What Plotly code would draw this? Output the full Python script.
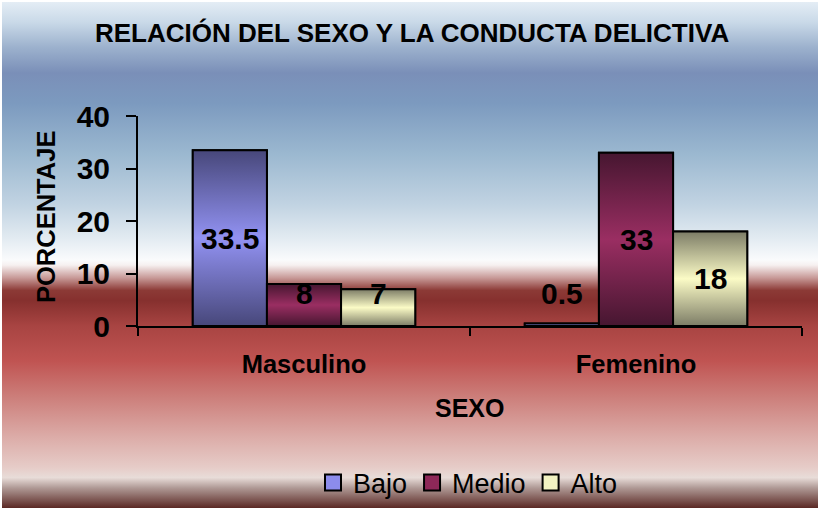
import base64
import plotly.graph_objects as go

# ---------------- data ----------------
categories = ["Masculino", "Femenino"]
series_names = ["Bajo", "Medio", "Alto"]
bajo = [33.5, 0.5]
medio = [8, 33]
alto = [7, 18]
y_ticks = [0, 10, 20, 30, 40]

title_text = "RELACIÓN DEL SEXO Y LA CONDUCTA DELICTIVA"
x_title = "SEXO"
y_title = "PORCENTAJE"

# ---------------- styles ----------------
W, H = 820, 510
FONT = "Liberation Sans, Arial, sans-serif"
light_cols = ["#9292f2", "#9a2e62", "#fbfbc6"]
dark_cols = ["#47477a", "#461630", "#7c7c66"]
legend_cols = ["#8c8cec", "#8e2858", "#f2f2c2"]
bargap = 0.33

values = [bajo, medio, alto]
n = len(values)
w = (1 - bargap) / n
xpos = list(range(len(categories)))

# plot area in pixels
px_left, px_right = 138, 802
px_top, px_bottom = 116, 326

# background gradient (svg)
stops = [
    (0.000, "#e4edf5"), (0.040, "#c9d9e8"), (0.090, "#9cb1cd"), (0.140, "#7a8fb8"),
    (0.200, "#7c9abf"), (0.300, "#9bb8d0"), (0.400, "#c1d3e2"), (0.470, "#e4ecf2"),
    (0.510, "#fafbfc"), (0.520, "#f6f0f0"), (0.545, "#c89a98"), (0.570, "#8c3a36"),
    (0.590, "#86302e"), (0.640, "#a84442"), (0.710, "#c05452"), (0.780, "#cc7e7a"),
    (0.860, "#dcaca8"), (0.920, "#e6ccc8"), (0.940, "#e8dcd8"), (0.960, "#b09a96"),
    (1.000, "#5a2824"),
]
stop_xml = "".join(f'<stop offset="{o}" stop-color="{c}"/>' for o, c in stops)
svg = (
    '<svg xmlns="http://www.w3.org/2000/svg" width="816" height="506" preserveAspectRatio="none">'
    f'<defs><linearGradient id="g" x1="0" y1="0" x2="0" y2="1">{stop_xml}</linearGradient></defs>'
    '<rect width="816" height="506" fill="url(#g)"/></svg>'
)
bg_src = "data:image/svg+xml;base64," + base64.b64encode(svg.encode()).decode()

fig = go.Figure()

# base bars
for i, (name, vals) in enumerate(zip(series_names, values)):
    fig.add_trace(go.Bar(
        x=xpos, y=vals, name=name, showlegend=False,
        marker=dict(color=light_cols[i], line=dict(color="black", width=2)),
        hoverinfo="skip",
    ))

# gradient overlays on the same bars
for i, vals in enumerate(values):
    for j, v in enumerate(vals):
        x0 = xpos[j] + (i - (n - 1) / 2) * w - w / 2
        x1 = x0 + w
        fig.add_trace(go.Scatter(
            x=[x0, x1, x1, x0, x0], y=[0, 0, v, v, 0],
            mode="lines", fill="toself",
            fillgradient=dict(type="vertical",
                              colorscale=[[0, dark_cols[i]], [0.5, light_cols[i]], [1, dark_cols[i]]]),
            line=dict(color="black", width=2),
            showlegend=False, hoverinfo="skip",
        ))

# legend entries
for i, name in enumerate(series_names):
    fig.add_trace(go.Scatter(
        x=[None], y=[None], mode="markers", name=name,
        marker=dict(symbol="square", size=16, color=legend_cols[i],
                    line=dict(color="black", width=2)),
    ))

# data labels
annotations = []
for i, vals in enumerate(values):
    for j, v in enumerate(vals):
        xc = xpos[j] + (i - (n - 1) / 2) * w
        annotations.append(dict(
            x=xc, y=max(v / 2, 6.2), xref="x", yref="y", text=f"{v:g}",
            showarrow=False, font=dict(family=FONT, size=30, color="black", weight="bold"),
            xanchor="center", yanchor="middle",
        ))

annotations.append(dict(
    x=412 / W, y=1 - 33 / H, xref="paper", yref="paper", text=f"<b>{title_text}</b>",
    showarrow=False, font=dict(family=FONT, size=26, color="black"),
    xanchor="center", yanchor="middle",
))
annotations.append(dict(
    x=470 / W, y=1 - 408 / H, xref="paper", yref="paper", text=f"<b>{x_title}</b>",
    showarrow=False, font=dict(family=FONT, size=25, color="black"),
    xanchor="center", yanchor="middle",
))
annotations.append(dict(
    x=46 / W, y=1 - 217 / H, xref="paper", yref="paper", text=f"<b>{y_title}</b>",
    showarrow=False, font=dict(family=FONT, size=25.5, color="black"), textangle=-90,
    xanchor="center", yanchor="middle",
))

fig.update_layout(
    width=W, height=H,
    margin=dict(l=0, r=0, t=0, b=0, pad=0, autoexpand=False),
    paper_bgcolor="white",
    plot_bgcolor="rgba(0,0,0,0)",
    barmode="group", bargap=bargap, bargroupgap=0,
    showlegend=True,
    legend=dict(orientation="h", x=468 / W, y=1 - 483 / H, xanchor="center", yanchor="middle",
                font=dict(family=FONT, size=27, color="black"),
                bgcolor="rgba(0,0,0,0)", itemsizing="trace"),
    images=[dict(source=bg_src, xref="paper", yref="paper", x=2 / W, y=1 - 2 / H,
                 sizex=816 / W, sizey=506 / H, sizing="stretch", layer="below",
                 xanchor="left", yanchor="top")],
    annotations=annotations,
    xaxis=dict(
        domain=[px_left / W, px_right / W],
        range=[-0.5, len(categories) - 0.5],
        automargin=False,
        tickmode="array", tickvals=xpos, ticktext=[f"<b>{c}</b>" for c in categories],
        ticks="", showgrid=False, zeroline=False,
        showline=True, linecolor="black", linewidth=2,
        tickfont=dict(family=FONT, size=25.5, color="black"),
        ticklabelstandoff=14,
        minor=dict(tickmode="array", tickvals=[k - 0.5 for k in range(len(categories) + 1)],
                   ticks="outside", ticklen=8, tickwidth=2, tickcolor="black", showgrid=False),
    ),
    yaxis=dict(
        domain=[1 - px_bottom / H, 1 - px_top / H],
        range=[0, 40], tickmode="array", tickvals=y_ticks,
        automargin=False,
        ticktext=[f"<b>{t}</b>" for t in y_ticks],
        ticks="outside", ticklen=10, tickwidth=2, tickcolor="black",
        showline=True, linecolor="black", linewidth=2,
        showgrid=False, zeroline=False,
        tickfont=dict(family=FONT, size=30, color="black"),
        ticklabelstandoff=10,
    ),
)

fig.write_html("out.html", config={"displayModeBar": False},
               post_script="document.body.style.margin='0';document.body.style.overflow='hidden';")
